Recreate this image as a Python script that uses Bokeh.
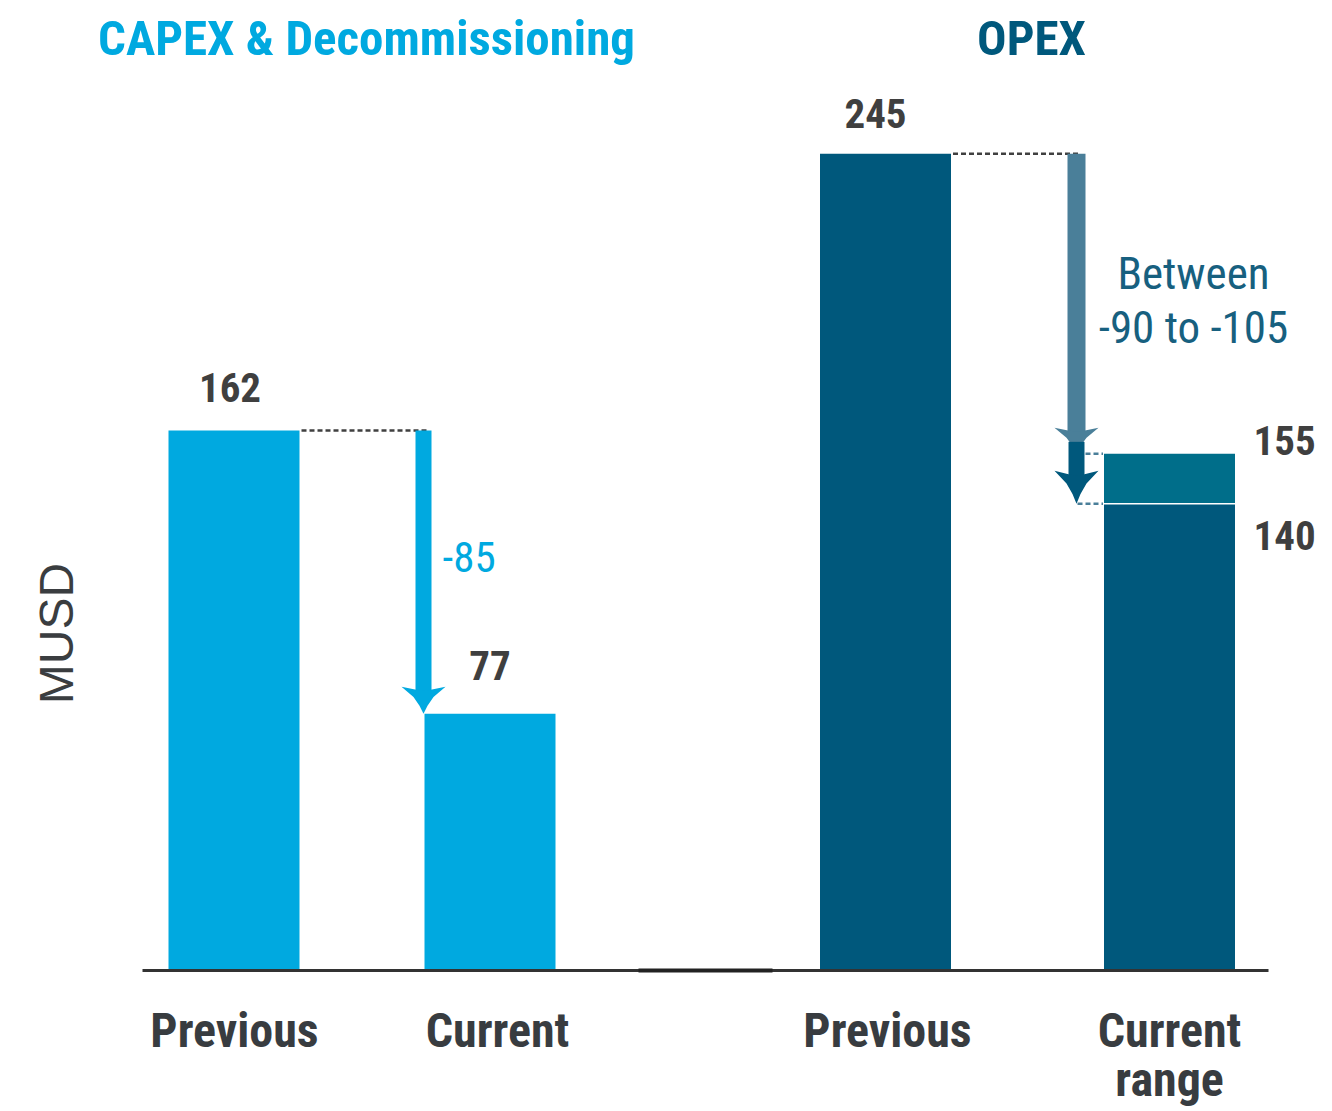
import math
from bokeh.plotting import figure
from bokeh.models import Range1d
from bokeh.core.properties import value
from bokeh.embed import file_html
from bokeh.resources import INLINE

# ---------------- data ----------------
group_titles = ["CAPEX & Decommissioning", "OPEX"]
categories = ["Previous", "Current", "Previous", "Current\nrange"]
capex_values = [162, 77]
capex_change_label = "-85"
opex_previous = 245
opex_range = [140, 155]
opex_change_label = ["Between", "-90 to -105"]
axis_title = "MUSD"

# ---------------- layout / style ----------------
W, H = 1330, 1111
PX = 3.3333  # pixels per unit on y
BASE = 970   # pixel row of the zero line
LIGHT = "#00A9E0"
DARK = "#00587C"
RANGE_TOP = "#006E8A"
ARROW2 = "#4A7F99"
NUM = "#3F3F3F"
LBL = "#383C40"
COND = "'Roboto Condensed', 'Liberation Sans Narrow', 'DejaVu Sans Condensed', sans-serif"

bar_x = [233.5, 489.5, 885.0, 1169.0]   # bar centres (x units = px)
label_x = [234, 497, 887, 1169]         # category label centres
bar_w = 131

p = figure(width=W, height=H, output_backend="svg", toolbar_location=None,
           x_range=Range1d(0, W), y_range=Range1d(-(H - BASE) / PX, BASE / PX),
           min_border=0, outline_line_color=None)
p.xaxis.visible = False
p.yaxis.visible = False
p.xgrid.visible = False
p.ygrid.visible = False
p.background_fill_color = "white"
p.border_fill_color = "white"


def vy(py):
    """pixel row -> value units"""
    return (BASE - py) / PX


def off(px):
    """pixel distance -> value units"""
    return px / PX


# bars
p.vbar(x=bar_x[:2], top=capex_values, bottom=0, width=bar_w, fill_color=LIGHT, line_color=None)
p.vbar(x=[bar_x[2]], top=[opex_previous], bottom=0, width=bar_w, fill_color=DARK, line_color=None)
p.vbar(x=[bar_x[3]], top=[opex_range[0]], bottom=0, width=bar_w, fill_color=DARK, line_color=None)
p.vbar(x=[bar_x[3]], top=[opex_range[1]], bottom=[opex_range[0]], width=bar_w, fill_color=RANGE_TOP, line_color=None)
p.segment(x0=[bar_x[3] - bar_w / 2], x1=[bar_x[3] + bar_w / 2], y0=[opex_range[0]], y1=[opex_range[0]],
          line_color="white", line_width=1.5)

# baseline
p.segment(x0=[142], x1=[1268], y0=[0], y1=[0], line_color="#333333", line_width=3)
p.segment(x0=[638], x1=[772], y0=[0], y1=[0], line_color="#222222", line_width=4)

# dotted connectors
p.segment(x0=[bar_x[0] + bar_w / 2 + 2], x1=[428], y0=[capex_values[0]], y1=[capex_values[0]],
          line_color="#404040", line_width=2.5, line_dash="5 3")
p.segment(x0=[bar_x[2] + bar_w / 2 + 2], x1=[1078], y0=[opex_previous], y1=[opex_previous],
          line_color="#404040", line_width=2.5, line_dash="5 3")
p.segment(x0=[1077, 1077], x1=[bar_x[3] - bar_w / 2 - 1] * 2, y0=opex_range[::-1], y1=opex_range[::-1],
          line_color=ARROW2, line_width=2.5, line_dash="5 3")


def arrow_head(cx, tip, half=22, length=27):
    """swept-back arrowhead polygon; tip at value `tip`."""
    L = length / PX
    xs = [cx - half, cx - 10, cx - 4, cx, cx + 4, cx + 10, cx + half, cx + 6, cx, cx - 6]
    ys = [tip + L, tip + L * 0.62, tip + L * 0.3, tip, tip + L * 0.3, tip + L * 0.62, tip + L,
          tip + L * 0.88, tip + L * 0.86, tip + L * 0.88]
    return xs, ys


# CAPEX arrow
cax = 423
p.quad(left=[cax - 8], right=[cax + 8], top=[capex_values[0]], bottom=[capex_values[1] + off(20)],
       fill_color=LIGHT, line_color=None)
hx, hy = arrow_head(cax, capex_values[1])
p.patch(hx, hy, fill_color=LIGHT, line_color=None)

# OPEX arrows
oax = 1076
p.quad(left=[oax - 9], right=[oax + 9], top=[opex_previous], bottom=[opex_range[1] + off(20)],
       fill_color=ARROW2, line_color=None)
hx, hy = arrow_head(oax, opex_range[1], length=26)
p.patch(hx, hy, fill_color=ARROW2, line_color=None)
p.quad(left=[oax - 8], right=[oax + 8], top=[opex_range[1] + off(12)], bottom=[opex_range[0] + off(25)],
       fill_color=DARK, line_color=None)
hx, hy = arrow_head(oax, opex_range[0], length=33)
p.patch(hx, hy, fill_color=DARK, line_color=None)

# titles
p.text(x=[366, 1031], y=[vy(38)] * 2, text=group_titles,
       text_color=[LIGHT, DARK], text_font=value(COND), text_font_style="bold",
       text_font_size="49px", text_align="center", text_baseline="middle")

# value labels
p.text(x=[bar_x[0] - 4, bar_x[1], bar_x[2] - 10],
       y=[capex_values[0] + off(43), capex_values[1] + off(48), opex_previous + off(40)],
       text=[str(capex_values[0]), str(capex_values[1]), str(opex_previous)],
       text_color=NUM, text_font=value(COND), text_font_style="bold", text_font_size="41px",
       text_align="center", text_baseline="middle")
p.text(x=[1253, 1253], y=[opex_range[1] + off(13), opex_range[0] - off(32)],
       text=[str(opex_range[1]), str(opex_range[0])],
       text_color=NUM, text_font=value(COND), text_font_style="bold", text_font_size="41px",
       text_align="left", text_baseline="middle")

# change labels
p.text(x=[cax + 19], y=[vy(556)], text=[capex_change_label],
       text_color=LIGHT, text_font=value(COND), text_font_size="43px",
       text_align="left", text_baseline="middle")
p.text(x=[1193, 1193], y=[vy(273), vy(327)], text=opex_change_label,
       text_color="#17607F", text_font=value(COND), text_font_size="45px",
       text_align="center", text_baseline="middle")

# category labels
lx, ly, lt = [], [], []
for cx, cat in zip(label_x, categories):
    for i, line in enumerate(cat.split("\n")):
        lx.append(cx)
        ly.append(vy(1030 + 49 * i))
        lt.append(line)
p.text(x=lx, y=ly, text=lt, text_color=LBL, text_font=value(COND), text_font_style="bold",
       text_font_size="48px", text_align="center", text_baseline="middle")

# axis title
p.text(x=[56], y=[vy(633)], text=[axis_title], angle=math.pi / 2,
       text_color="#3A3D40", text_font=value("'Liberation Sans', sans-serif"), text_font_size="48px",
       text_align="center", text_baseline="middle")

open("out.html", "w").write(file_html(p, INLINE))
